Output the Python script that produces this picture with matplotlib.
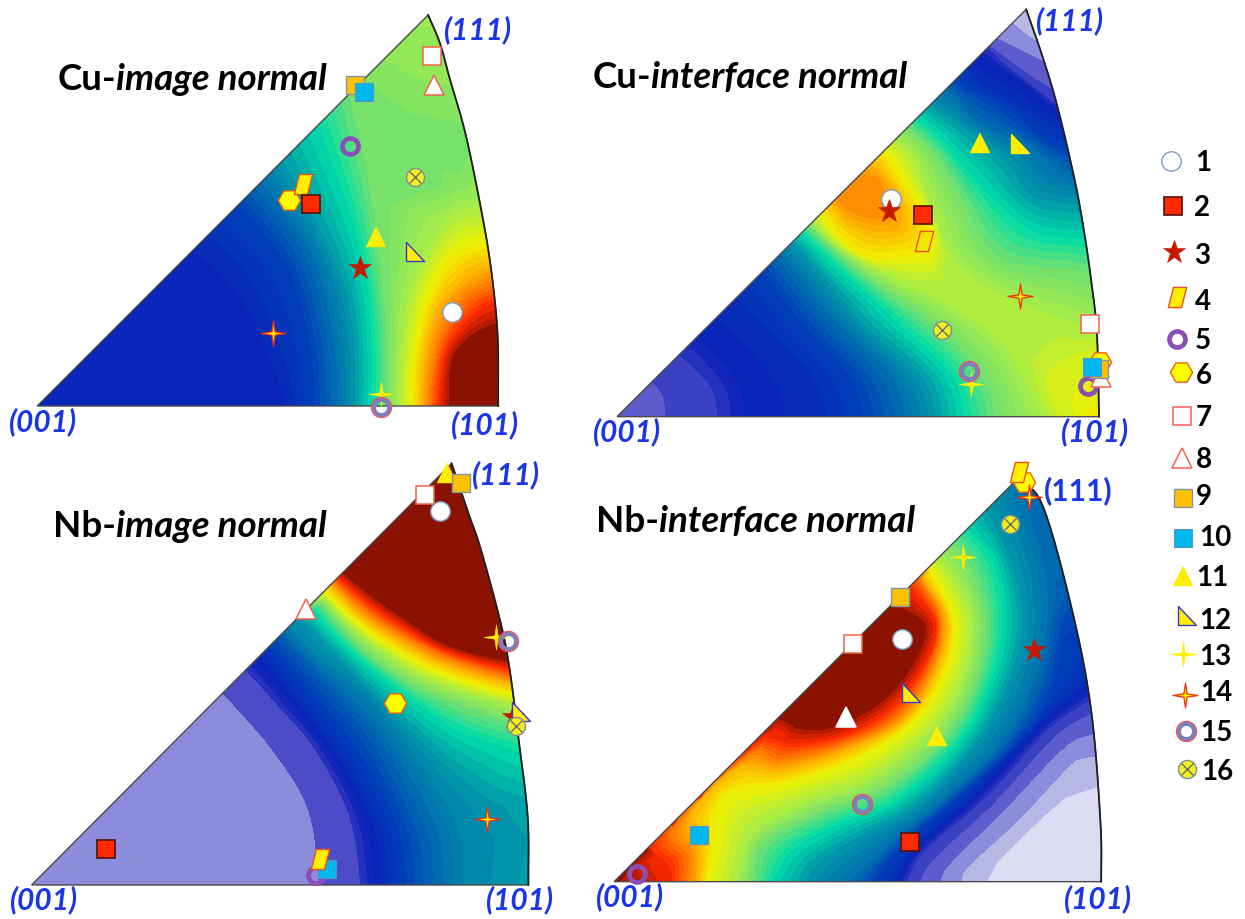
import numpy as np
import matplotlib
matplotlib.use("Agg")
import matplotlib.pyplot as plt
from matplotlib.path import Path
from matplotlib.patches import PathPatch
from matplotlib.tri import Triangulation

W, H = 1245, 919
# ---------------- data: contour samples (level, points) in panel picture units
CU_IMAGE_ISO = [
 (4, [(0,1350),(760,1300),(740,1050),(600,850),(480,800),(300,800),(0,1000)]),
 (5, [(930,1300),(920,1050),(850,800),(700,610),(640,560)]),
 (6, [(1000,1300),(990,1050),(930,780),(800,580),(720,480)]),
 (7, [(1050,1300),(1045,1000),(1000,800),(880,560),(800,420)]),
 (8, [(1100,1300),(1100,1050),(1085,850),(1040,650),(980,480),(930,350),(850,300)]),
 (9, [(1140,1300),(1145,1050),(1130,850),(1100,600),(1050,350),(1000,200),(950,170)]),
 (9.1, [(1200,400),(1380,430)]),
 (9.3, [(1350,550)]),
 (9.6, [(1040,120),(1200,170),(1300,210),(1400,230)]),
 (9.9, [(1000,0),(1350,0)]),
 (10, [(1175,1300),(1185,1050),(1220,850),(1330,650),(1460,620)]),
 (11, [(1215,1300),(1225,1080),(1270,880),(1350,760),(1480,720)]),
 (12, [(1245,1300),(1255,1090),(1300,920),(1400,820),(1480,790)]),
 (13, [(1265,1300),(1285,1090),(1330,960),(1400,880),(1490,850)]),
 (14, [(1290,1300),(1310,1090),(1350,1000),(1420,930),(1490,900)]),
 (15, [(1340,1300),(1340,1100),(1385,1030),(1440,1000),(1490,990)]),
 (16, [(1550,1350),(1550,1050)]),
 (4.5, [(0,700)]), (6.5, [(400,300)]), (8.5, [(700,150)]), (9.4, [(1550,300)]),
]
CU_INTERFACE_ISO = [
 (2.6, [(0,1350),(110,1250),(0,1200)]),
 (3, [(240,1300),(235,1200),(205,1150),(150,1120)]),
 (3.5, [(385,1300),(370,1170),(280,1065),(230,1020)]),
 (4, [(465,1300),(440,1150),(330,1010),(270,960)]),
 (4.5, [(700,1300),(650,1130),(500,960),(420,870),(400,840)]),
 (5, [(800,1300),(760,1140),(630,980),(540,860),(490,790)]),
 (6, [(920,1300),(870,1130),(720,970),(590,800),(540,740)]),
 (7, [(1000,1300),(960,1140),(800,980),(640,780),(570,700)]),
 (8, [(1080,1300),(1040,1130),(900,980),(710,790),(590,670)]),
 (9, [(1170,1300),(1130,1150),(1020,1000),(800,830),(680,720),(610,650)]),
 (10, [(1310,1300),(1220,1100),(1150,1000),(1000,900),(880,840),(720,740),(630,640)]),
 (10.3, [(1000,830)]),
 (10.5, [(1360,1300),(1300,1130),(1420,1050),(1520,1050)]),
 (11, [(1420,1300),(1430,1220),(1520,1180)]),
 (11.2, [(1520,1350)]),
 (10, [(1520,1040),(1400,980),(1250,920),(1130,860),(1040,780),(1000,680),(960,560),(930,470),(880,420)]),
 (9, [(1520,860),(1380,810),(1200,790),(1120,720),(1070,610),(1000,480),(930,400),(870,350)]),
 (8, [(1520,750),(1400,720),(1270,700),(1160,610),(1060,490),(990,400),(925,350)]),
 (7, [(1520,680),(1400,620),(1260,590),(1180,480),(1060,380),(960,310)]),
 (6, [(1520,610),(1370,540),(1250,440),(1120,380),(1050,300),(1000,260)]),
 (5, [(1520,520),(1400,470),(1290,420),(1180,320),(1070,260),(1040,200)]),
 (4.5, [(1520,470),(1340,390),(1230,320),(1130,260),(1060,190)]),
 (4, [(1450,420),(1310,320),(1220,240),(1110,170),(1060,130)]),
 (3.5, [(1400,380),(1320,310),(1190,200),(1110,120)]),
 (3, [(1400,320),(1300,260),(1230,210),(1130,130)]),
 (2.5, [(1400,240),(1300,190),(1150,110)]),
 (1.5, [(1400,180),(1280,130),(1190,60)]),
 (1.4, [(1300,0),(1520,100)]),
 (11, [(680,650),(720,710),(800,770),(900,770),(980,740),(960,640),(900,540),(860,470),(830,440)]),
 (12, [(710,620),(760,670),(830,695),(890,680),(890,610),(840,520),(800,490)]),
 (12.6, [(730,610),(780,640),(850,640),(850,590),(800,530),(650,560),(740,460)]),
 (5, [(0,800)]), (7, [(300,500)]), (9, [(600,300)]), (5.5, [(900,100)]), (2, [(1000,0)]),
]
NB_IMAGE_ISO = [
 (1.8, [(0,1400),(0,1000),(300,1100),(500,1200),(300,700)]),
 (2.5, [(905,1400),(890,1300),(860,1080),(760,900),(625,735),(560,680)]),
 (3.5, [(1010,1400),(1005,1300),(975,1100),(880,900),(770,760),(690,665),(640,620)]),
 (4.5, [(1090,1400),(1085,1300),(1060,1120),(960,920),(830,730),(735,600),(680,550)]),
 (5.5, [(1185,1400),(1180,1305),(1160,1140),(1040,880),(900,700),(780,560)]),
 (6.5, [(1290,1400),(1290,1305),(1280,1140),(1180,950),(1020,730),(890,620),(810,530)]),
 (7, [(1430,1400),(1470,1110),(1370,1050),(1250,950),(1100,790),(980,660),(900,570),(840,500)]),
 (7.3, [(1530,1400),(1530,1250)]),
 (8, [(1530,950),(1440,900),(1280,840),(1150,750),(1010,630),(930,550),(875,480)]),
 (9, [(1530,840),(1435,820),(1180,720),(1030,615),(955,535),(895,460)]),
 (10, [(1530,775),(1430,765),(1200,690),(1050,590),(970,520),(905,445)]),
 (11, [(1530,735),(1425,730),(1215,660),(1065,570),(985,505),(912,430)]),
 (12, [(1530,705),(1425,700),(1225,635),(1080,550),(1000,490),(925,410)]),
 (13, [(1530,685),(1425,680),(1235,615),(1095,535),(1015,475),(935,398)]),
 (14, [(1530,660),(1420,655),(1240,600),(1110,520),(1030,460),(945,385)]),
 (15, [(1530,630),(1410,625),(1250,580),(1130,500),(1050,440),(965,368)]),
 (16, [(1300,0),(900,200),(1530,200),(1530,500),(1200,300)]),
 (10.5, [(500,300)]),
]
NB_INTERFACE_ISO = [
 (0, [(1400,1300),(1300,1200),(1530,1400)]),
 (0.5, [(1445,1010),(1380,1020),(1260,1130),(1140,1260),(1130,1300)]),
 (1.5, [(1435,920),(1380,930),(1220,1110),(1080,1250),(1060,1300)]),
 (2.5, [(1430,850),(1350,890),(1180,1080),(1030,1240),(1000,1300)]),
 (3, [(1420,790),(1320,860),(1150,1060),(990,1220),(940,1300)]),
 (3.5, [(1400,760),(1300,840),(1130,1040),(960,1200),(905,1300)]),
 (4.5, [(1530,620),(1420,680),(1260,830),(1090,1030),(925,1190),(860,1300)]),
 (5, [(1530,500),(1365,500),(1320,700),(1230,860),(1060,1030),(910,1170),(810,1300)]),
 (6, [(1230,130),(1290,340),(1300,520),(1260,700),(1170,880),(1010,1050),(860,1180),(740,1300)]),
 (7, [(1130,180),(1200,340),(1230,520),(1190,700),(1100,880),(940,1060),(790,1150),(670,1230),(620,1300)]),
 (8, [(1080,240),(1150,340),(1175,520),(1140,700),(1050,880),(880,1050),(720,1120),(590,1200),(530,1300)]),
 (9, [(1040,280),(1090,360),(1130,520),(1100,700),(1010,870),(840,1020),(660,1090),(510,1180),(480,1300)]),
 (10, [(1000,325),(1050,400),(1090,520),(1060,700),(970,850),(800,990),(620,1060),(480,1150),(430,1300)]),
 (11, [(975,360),(1040,520),(1010,680),(920,820),(760,930),(560,1000),(400,1040),(370,1200),(350,1300)]),
 (12, [(955,385),(1020,510),(990,660),(900,810),(740,900),(560,960),(440,950),(310,1090),(330,1200),(330,1300)]),
 (13, [(945,390),(1000,510),(975,650),(880,800),(730,880),(560,925),(470,910),(260,1130),(300,1220),(290,1300)]),
 (14, [(925,420),(990,520),(960,640),(860,780),(720,860),(580,880),(510,860),(210,1150),(250,1250),(255,1300)]),
 (14.8, [(880,470),(960,530),(920,650),(830,760),(700,830),(600,830),(550,800),(50,1350)]),
 (16, [(850,550),(750,700),(650,600),(400,500)]),
 (12.5, [(0,1000)]),
 (6.5, [(1220,0)]), (5.5, [(1530,200)]), (11.5, [(800,100)]),
]

# ---------------- data: triangle outlines
CU_IMAGE_OUTLINE = [(110,1218),(1472,1218),(1470,1000),(1450,800),(1420,620),(1375,400),(1330,240),(1300,130),(1265,45)]
CU_INTERFACE_OUTLINE = [(103,1250),(1446,1250),(1440,1000),(1425,850),(1405,700),(1378,540),(1330,320),(1290,175),(1243,28)]
NB_IMAGE_OUTLINE = [(88,1305),(1472,1305),(1470,1100),(1445,870),(1420,660),(1395,520),(1340,300),(1305,190),(1258,40)]
NB_INTERFACE_OUTLINE = [(95,1295),(1452,1295),(1450,1120),(1425,790),(1375,500),(1290,170),(1220,85)]

# ---------------- data: 16 sample positions per panel (order 1..16)
CU_IMAGE_X = [1337,920,1065,895,1035,853,1277,1282,1050,1075,1110,1222,1127,807,1125,1227]
CU_IMAGE_Y = [935,613,803,553,437,600,168,255,255,275,712,755,1183,1000,1222,532]
CU_INTERFACE_X = [866,955,862,957,1416,1448,1422,1450,1445,1426,1115,1222,1090,1226,1085,1008]
CU_INTERFACE_Y = [598,644,632,722,1157,1085,973,1130,1108,1102,428,432,1152,888,1112,990]
NB_IMAGE_X = [1226,294,1428,892,880,1100,1183,853,1284,910,1246,1448,1382,1358,1416,1437]
NB_IMAGE_Y = [182,1196,800,1228,1275,760,134,478,100,1258,68,785,560,1108,572,827]
NB_INTERFACE_X = [897,920,1265,1223,158,1238,760,742,892,332,994,920,1066,1250,785,1197]
NB_INTERFACE_Y = [567,1175,600,65,1272,95,582,800,441,1155,857,730,322,140,1062,222]

LEGEND_LABELS = [str(i) for i in range(1, 17)]
LEGEND_X = [1171,1173,1174,1177,1177,1181,1182,1182,1183,1183,1183,1186,1183,1185,1186,1187]
LEGEND_Y = [161,206,252,297,339,372,416,458,498,538,576,616,654,695,731,769]
LEGEND_TX = [1203,1202,1202,1203,1203,1204,1204,1204,1204,1215,1212,1215,1215,1216,1216,1217]
LEGEND_TY = [163,208,256,302,341,376,418,460,497,538,578,621,657,693,733,772]

# ---------------- colour scale
ANCHOR_V = list(range(16))
ANCHOR_C = ['#dcdcf2','#b8b8e6','#8c8cdc','#4c4cc8','#0a20b8','#0040b8','#0070b0','#0098a8',
            '#00dca8','#70e070','#a8ec48','#f0f000','#ffb400','#ff7800','#ff2a00','#8b1200']
rgb = np.array([matplotlib.colors.to_rgb(c) for c in ANCHOR_C])

def level_colors(levels):
    cols = []
    for a, b in zip(levels[:-1], levels[1:]):
        if a < 0: m = 0.0
        elif b > 50: m = 15.0
        else: m = (a + b) / 2
        cols.append(tuple(np.interp(m, ANCHOR_V, rgb[:, k]) for k in range(3)))
    return cols

BASE = [-20, 0.5, 1.5, 2.5, 3.5] + list(np.arange(3.75, 14.76, 0.25)) + [100]
EXTRA = [-20, 0.5, 1.5, 2.5, 3, 3.5] + list(np.arange(3.75, 14.76, 0.25)) + [100]

fig = plt.figure(figsize=(W / 100, H / 100), dpi=100)
fig.patch.set_facecolor('white')

def make_ax(x0, y0, w, h, xmax, ymax):
    ax = fig.add_axes([x0 / W, 1 - (y0 + h) / H, w / W, h / H])
    ax.set_xlim(0, xmax); ax.set_ylim(ymax, 0)
    ax.axis('off')
    return ax

STAR4 = Path([(0,1),(.13,.13),(1,0),(.13,-.13),(0,-1),(-.13,-.13),(-1,0),(-.13,.13),(0,1)], closed=True)
RTRI = Path(np.array([(-.45,.55),(-.45,-.5),(.6,-.5),(-.45,.55)]), closed=True)
PARA = Path(np.array([(-.22,.55),(.5,.55),(.22,-.55),(-.5,-.55),(-.22,.55)]), closed=True)
RED_E = '#f06450'
STYLE = {
 1: dict(marker='o', ms=14, mfc='white', mec='#7f9cc0', mew=1.0),
 2: dict(marker='s', ms=13.5, mfc='#ff2a00', mec='#501010', mew=1.2),
 3: dict(marker='*', ms=17, mfc='#c41a00', mec='#c41a00', mew=0.4),
 4: dict(marker=PARA, ms=14.5, mfc='#ffee00', mec='#f05020', mew=1.0),
 5: dict(marker='o', ms=11.5, mfc='none', mec='#8a4fb5', mew=3.4),
 6: dict(marker='H', ms=16, mfc='#ffff00', mec='#f06010', mew=1.0),
 7: dict(marker='s', ms=13.5, mfc='white', mec=RED_E, mew=1.1),
 8: dict(marker='^', ms=14, mfc='white', mec=RED_E, mew=1.1),
 9: dict(marker='s', ms=13.5, mfc='#ffc000', mec='#8295a8', mew=1.0),
 10: dict(marker='s', ms=13.5, mfc='#00b8f0', mec='#5a93c0', mew=0.8),
 11: dict(marker='^', ms=15, mfc='#ffee00', mec='#ffee00', mew=0.3),
 12: dict(marker=RTRI, ms=15, mfc='#ffee00', mec='#3a3ac8', mew=1.0),
 13: dict(marker=STAR4, ms=18, mfc='#ffee00', mec='#ffee00', mew=0.4),
 14: dict(marker=STAR4, ms=18, mfc='#ffee00', mec='#ee3010', mew=0.9),
 15: dict(marker='o', ms=11, mfc='none', mec='#7c80bc', mew=3.0),
 16: dict(marker='o', ms=13, mfc='#f2ee20', mec='#7e9090', mew=1.0),
}
ORDER = [1, 3, 5, 6, 7, 8, 11, 9, 10, 4, 2, 12, 13, 14, 15, 16]

def draw_marker(ax, x, y, i, z, **over):
    st = dict(STYLE[i]); st.update(over)
    ax.plot([x], [y], ls='none', zorder=z, clip_on=False, **st)
    if i == 15:
        ax.plot([x], [y], ls='none', marker='o', ms=14.5, mfc='none', mec='#ee5058', mew=0.9, zorder=z, clip_on=False)
    if i == 16:
        ax.plot([x], [y], ls='none', marker='x', ms=8.5, mec='#6a7070', mew=1.0, zorder=z + 0.1, clip_on=False)

def smooth(pts, n=8):
    """Catmull-Rom curve through the read points: only the drawn geometry gets rounder."""
    p = np.array(pts, float)
    if len(p) < 3:
        return p
    q = np.vstack([2 * p[0] - p[1], p, 2 * p[-1] - p[-2]])
    out = [p[0]]
    for i in range(1, len(q) - 2):
        for t in np.linspace(0, 1, n + 1)[1:]:
            a = 0.5 * ((2 * q[i]) + (q[i + 1] - q[i - 1]) * t + (2 * q[i - 1] - 5 * q[i] + 4 * q[i + 1] - q[i + 2]) * t ** 2
                       + (3 * q[i] - q[i - 1] - 3 * q[i + 1] + q[i + 2]) * t ** 3)
            out.append(a)
    return np.array(out)

def iso_samples(iso):
    px, py, pv = [], [], []
    for v, pts in iso:
        c = smooth(pts)
        px += list(c[:, 0]); py += list(c[:, 1]); pv += [v] * len(c)
    return np.array(px), np.array(py), np.array(pv, float)

def draw_panel(ax, iso, outline, levels, xs, ys, overrides=None):
    overrides = overrides or {}
    px, py, pv = iso_samples(iso)
    tri = Triangulation(px, py)
    cs = ax.tricontourf(tri, pv, levels=levels, colors=level_colors(levels), antialiased=False, zorder=1)
    pts = np.array(outline, float)
    arc = smooth(pts[1:])
    verts = [tuple(pts[0])] + [tuple(p) for p in arc] + [tuple(pts[0])]
    codes = [Path.MOVETO] + [Path.LINETO] * len(arc) + [Path.CLOSEPOLY]
    patch = PathPatch(Path(verts, codes), fc='none', ec='#4a4a4a', lw=1.0, zorder=2)
    ax.add_patch(patch)
    cs.set_clip_path(patch)
    ax.plot(arc[:, 0], arc[:, 1], color='#202020', lw=1.3, zorder=2.1)
    for k, i in enumerate(ORDER):
        draw_marker(ax, xs[i - 1], ys[i - 1], i, 5 + k * 0.2, **overrides.get(i, {}))

BLUE = '#1a36e6'
TFONT = 'Lato'

def title(ax, x, y, head, tail, size=26.5):
    t = ax.text(x, y, head, fontfamily=TFONT, fontweight='bold', fontsize=size, color='black', va='baseline', ha='left', zorder=9)
    ax.annotate(tail, xy=(1, 0), xycoords=t, fontfamily=TFONT, fontweight='bold', fontstyle='italic',
                fontsize=size, color='black', va='bottom', ha='left', zorder=9, annotation_clip=False)

def corner(ax, x, y, s, italic=True):
    ax.text(x, y, s, color=BLUE, fontfamily=TFONT, fontweight='bold', fontstyle='italic' if italic else 'normal',
            fontsize=21.5, ha='center', va='center', zorder=9, clip_on=False)

ax1 = make_ax(0, 0, 530, 450, 1566, 1350)
ax2 = make_ax(580, 0, 560, 450, 1560, 1350)
ax3 = make_ax(0, 450, 560, 469, 1560, 1407)
ax4 = make_ax(580, 450, 560, 469, 1560, 1407)

draw_panel(ax1, CU_IMAGE_ISO, CU_IMAGE_OUTLINE, BASE, CU_IMAGE_X, CU_IMAGE_Y)
draw_panel(ax2, CU_INTERFACE_ISO, CU_INTERFACE_OUTLINE, EXTRA, CU_INTERFACE_X, CU_INTERFACE_Y,
           {4: dict(mfc='none'), 12: dict(mec='#ffee00')})
draw_panel(ax3, NB_IMAGE_ISO, NB_IMAGE_OUTLINE, BASE, NB_IMAGE_X, NB_IMAGE_Y)
draw_panel(ax4, NB_INTERFACE_ISO, NB_INTERFACE_OUTLINE, EXTRA, NB_INTERFACE_X, NB_INTERFACE_Y,
           {8: dict(mec='white')})

title(ax1, 170, 270, 'Cu-', 'image normal')
title(ax2, 35, 265, 'Cu-', 'interface normal')
title(ax3, 148, 260, 'Nb-', 'image normal')
title(ax4, 45, 245, 'Nb-', 'interface normal')

corner(ax1, 128, 1265, '(001)'); corner(ax1, 1432, 1275, '(101)'); corner(ax1, 1412, 88, '(111)')
corner(ax2, 130, 1295, '(001)'); corner(ax2, 1435, 1295, '(101)'); corner(ax2, 1365, 62, '(111)')
corner(ax3, 122, 1350, '(001)'); corner(ax3, 1448, 1350, '(101)'); corner(ax3, 1410, 75, '(111)')
corner(ax4, 140, 1340, '(001)'); corner(ax4, 1442, 1345, '(101)'); corner(ax4, 1388, 122, '(111)', italic=False)

lax = make_ax(1140, 140, 105, 660, 1245 - 1140, 660)
for i, (mx, my, tx, ty, lab) in enumerate(zip(LEGEND_X, LEGEND_Y, LEGEND_TX, LEGEND_TY, LEGEND_LABELS), start=1):
    draw_marker(lax, mx - 1140, my - 140, i, 5)
    lax.text(tx - 1140, ty - 140, lab, fontfamily=TFONT, fontweight='bold', fontsize=20, color='black',
             ha='center', va='center', clip_on=False)

fig.savefig('out.png', dpi=100)
